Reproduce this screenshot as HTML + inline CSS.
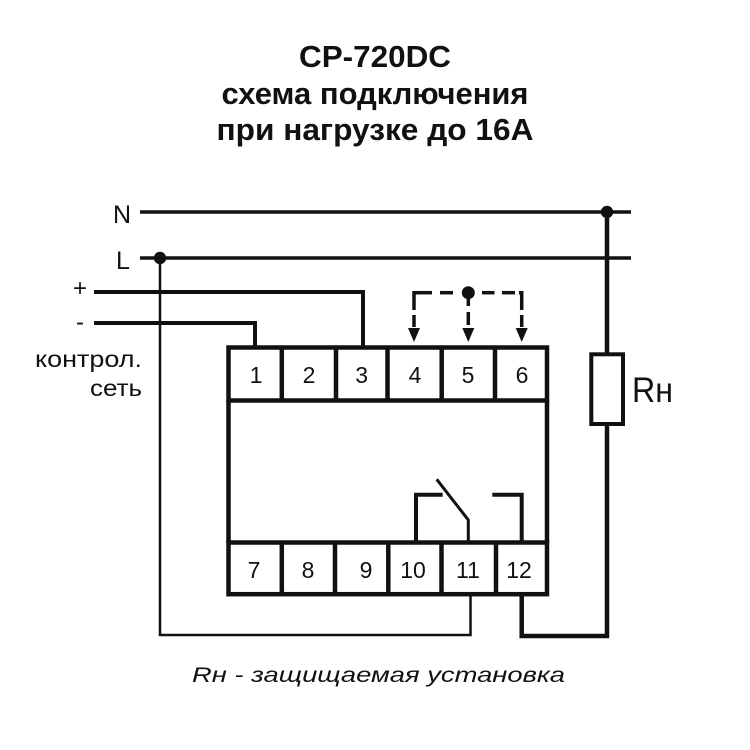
<!DOCTYPE html>
<html>
<head>
<meta charset="utf-8">
<style>
  html, body { margin: 0; padding: 0; background: #fff; }
  svg { display: block; }
  text { font-family: "Liberation Sans", "DejaVu Sans", sans-serif; fill: #111; }
</style>
</head>
<body>
<svg width="750" height="750" viewBox="0 0 750 750" xmlns="http://www.w3.org/2000/svg">
  <rect x="0" y="0" width="750" height="750" fill="#fff"/>

  <!-- Title -->
  <text x="375" y="67" text-anchor="middle" font-size="31" font-weight="bold" textLength="152" lengthAdjust="spacingAndGlyphs">CP-720DC</text>
  <text x="375" y="104" text-anchor="middle" font-size="31" font-weight="bold" textLength="307" lengthAdjust="spacingAndGlyphs">схема подключения</text>
  <text x="375" y="140" text-anchor="middle" font-size="31" font-weight="bold" textLength="317" lengthAdjust="spacingAndGlyphs">при нагрузке до 16A</text>

  <!-- Left labels -->
  <text x="122" y="223" text-anchor="middle" font-size="25" fill="#222">N</text>
  <text x="123" y="269" text-anchor="middle" font-size="25" fill="#222">L</text>
  <text x="80" y="296" text-anchor="middle" font-size="24" fill="#222">+</text>
  <text x="80" y="330" text-anchor="middle" font-size="24" fill="#222">-</text>
  <text x="142" y="367" text-anchor="end" font-size="23" fill="#222" textLength="107" lengthAdjust="spacingAndGlyphs">контрол.</text>
  <text x="142" y="396" text-anchor="end" font-size="23" fill="#222" textLength="52" lengthAdjust="spacingAndGlyphs">сеть</text>

  <g stroke="#111" fill="none" stroke-linecap="butt" stroke-linejoin="miter">
    <!-- N and L lines -->
    <line x1="140" y1="212" x2="631" y2="212" stroke-width="3.5"/>
    <line x1="140" y1="258" x2="631" y2="258" stroke-width="3.5"/>
    <!-- + and - lines -->
    <polyline points="94,292 363,292 363,348" stroke-width="4"/>
    <polyline points="94,323 255,323 255,348" stroke-width="4"/>

    <!-- L vertical down to terminal 11 -->
    <polyline points="160,258 160,635 470.5,635 470.5,594" stroke-width="2.5"/>

    <!-- N down to resistor and to terminal 12 -->
    <line x1="607" y1="212" x2="607" y2="354" stroke-width="4.5"/>
    <polyline points="607,424 607,636 521.7,636 521.7,594" stroke-width="4.5"/>
    <rect x="591.3" y="354.3" width="31.7" height="69.7" stroke-width="4"/>

    <!-- Device top terminal row -->
    <rect x="228.5" y="347.5" width="318.5" height="53" stroke-width="4.5"/>
    <line x1="281.8" y1="347.5" x2="281.8" y2="400.5" stroke-width="4.5"/>
    <line x1="336" y1="347.5" x2="336" y2="400.5" stroke-width="4.5"/>
    <line x1="387.5" y1="347.5" x2="387.5" y2="400.5" stroke-width="4.5"/>
    <line x1="441.7" y1="347.5" x2="441.7" y2="400.5" stroke-width="4.5"/>
    <line x1="495" y1="347.5" x2="495" y2="400.5" stroke-width="4.5"/>

    <!-- Body sides -->
    <line x1="228.5" y1="400" x2="228.5" y2="543" stroke-width="4.5"/>
    <line x1="547" y1="400" x2="547" y2="543" stroke-width="4.5"/>

    <!-- Bottom terminal row -->
    <rect x="228.5" y="542.5" width="318.5" height="51.7" stroke-width="4.5"/>
    <line x1="281.8" y1="542.5" x2="281.8" y2="594" stroke-width="4.5"/>
    <line x1="335" y1="542.5" x2="335" y2="594" stroke-width="4.5"/>
    <line x1="388.3" y1="542.5" x2="388.3" y2="594" stroke-width="4.5"/>
    <line x1="441.5" y1="542.5" x2="441.5" y2="594" stroke-width="4.5"/>
    <line x1="496" y1="542.5" x2="496" y2="594" stroke-width="4.5"/>

    <!-- Relay contact -->
    <polyline points="416,542 416,494.7 442.7,494.7" stroke-width="4"/>
    <polyline points="436.7,479.3 468.3,520 468.3,542" stroke-width="3"/>
    <polyline points="492.3,494.7 521.7,494.7 521.7,542" stroke-width="4"/>

    <!-- Dashed selector -->
    <g stroke-width="3.5">
      <line x1="418" y1="292.7" x2="432" y2="292.7"/>
      <line x1="440" y1="292.7" x2="453" y2="292.7"/>
      <line x1="482" y1="292.7" x2="494.5" y2="292.7"/>
      <line x1="502" y1="292.7" x2="515" y2="292.7"/>
      <!-- left corner -->
      <polyline points="414,310 414,292.7 418,292.7"/>
      <line x1="414" y1="315" x2="414" y2="327"/>
      <!-- right corner -->
      <polyline points="519,292.7 521.7,292.7 521.7,310"/>
      <line x1="521.7" y1="315" x2="521.7" y2="327"/>
      <!-- middle -->
      <line x1="468.3" y1="296" x2="468.3" y2="306"/>
      <line x1="468.3" y1="312" x2="468.3" y2="325"/>
    </g>
  </g>

  <!-- Dots -->
  <circle cx="160" cy="258" r="6.2" fill="#111"/>
  <circle cx="607" cy="212" r="6.2" fill="#111"/>
  <circle cx="468.3" cy="292.7" r="6.5" fill="#111"/>

  <!-- Arrowheads -->
  <polygon points="408,328 420,328 414,342" fill="#111"/>
  <polygon points="462.3,328 474.3,328 468.3,342" fill="#111"/>
  <polygon points="515.7,328 527.7,328 521.7,342" fill="#111"/>

  <!-- Terminal numbers top -->
  <g font-size="23" text-anchor="middle" fill="#222">
    <text x="256" y="383">1</text>
    <text x="309" y="383">2</text>
    <text x="361.7" y="383">3</text>
    <text x="415" y="383">4</text>
    <text x="468" y="383">5</text>
    <text x="522" y="383">6</text>
    <text x="254" y="578">7</text>
    <text x="308" y="578">8</text>
    <text x="366" y="578">9</text>
    <text x="413" y="578">10</text>
    <text x="468" y="578">11</text>
    <text x="519" y="578">12</text>
  </g>

  <!-- Resistor label -->
  <text x="632" y="402" font-size="35" fill="#222" textLength="41" lengthAdjust="spacingAndGlyphs">Rн</text>

  <!-- Caption -->
  <text x="192" y="682" font-size="21" font-style="italic" fill="#222" textLength="373" lengthAdjust="spacingAndGlyphs">Rн - защищаемая установка</text>
</svg>
</body>
</html>
